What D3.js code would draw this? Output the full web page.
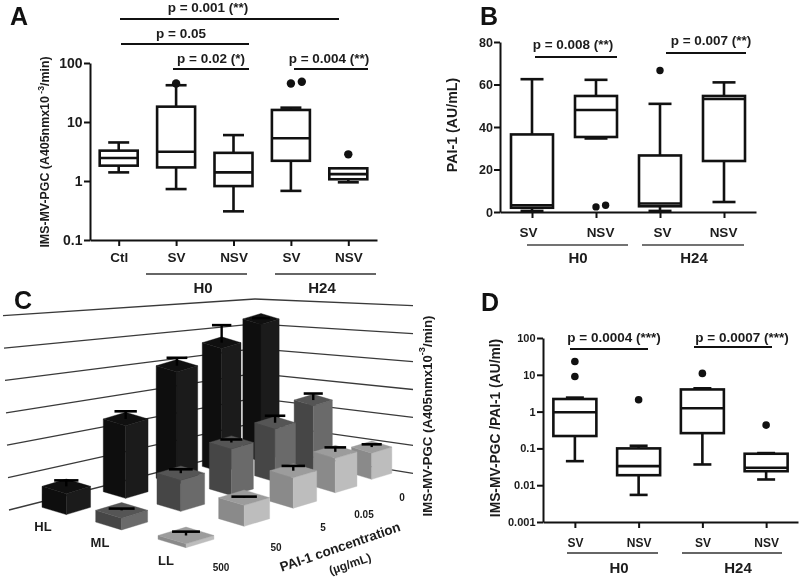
<!DOCTYPE html>
<html><head><meta charset="utf-8">
<script src="https://cdn.jsdelivr.net/npm/d3@7/dist/d3.min.js"></script>
<style>
html,body{margin:0;padding:0;background:#fff}
svg{display:block;filter:blur(0.35px)}
text{font-family:"Liberation Sans",Arial,sans-serif;font-weight:700;fill:#1c1c1c}
</style></head><body><svg id="c" width="800" height="577"></svg>
<script>
// ---------- Data ----------
const keysA = ["Ctl","SV-H0","NSV-H0","SV-H24","NSV-H24"];
const labelsA = ["Ctl","SV","NSV","SV","NSV"];
const hiA  = [4.5, 42, 6.0, 17.5, 1.64];
const q3A  = [3.27, 18.2, 3.0, 16, 1.64];
const medA = [2.45, 3.14, 1.4, 5.3, 1.31];
const q1A  = [1.82, 1.7, 0.82, 2.2, 1.07];
const loA  = [1.4, 0.73, 0.306, 0.68, 0.95];
const outA = [[], [45], [], [45, 48], [2.83]];

const keysBD = ["SV-H0","NSV-H0","SV-H24","NSV-H24"];
const labelsBD = ["SV","NSV","SV","NSV"];
const hiB  = [62.5, 62.2, 50.9, 61];
const q3B  = [36.5, 54.6, 26.6, 54.6];
const medB = [3.2, 48, 4, 53.2];
const q1B  = [2, 35.3, 2.7, 24];
const loB  = [0.5, 34.6, 0.5, 4.7];
const outB = [[], [2.4, 3.2], [66.6], []];

const hiD  = [2.4, 0.118, 4.3, 0.0746];
const q3D  = [2.2, 0.1, 4, 0.0716];
const medD = [0.96, 0.033, 1.23, 0.0297];
const q1D  = [0.217, 0.0187, 0.26, 0.024];
const loD  = [0.045, 0.00545, 0.0366, 0.0143];
const outD = [[23, 9], [2.1], [10.9], [0.43]];

const rowsC = ["HL","ML","LL"];
const concC = ["500","50","5","0.05","0"];
const meanHL = [0.63, 2.37, 3.95, 4.66, 5.51];
const meanML = [0.33, 0.95, 1.54, 1.89, 2.45];
const meanLL = [0.10, 0.60, 0.95, 1.16, 0.95];
const errHL  = [0.18, 0.25, 0.28, 0.66, 0.03];
const errML  = [0.05, 0.12, 0.10, 0.25, 0.25];
const errLL  = [0.10, 0.03, 0.15, 0.15, 0.10];
const gridLevels = [0,1,2,3,4,5,6];

// ---------- Helpers ----------
const svg = d3.select("#c");
const INK = "#111";

function letter(t,x,y){ svg.append("text").attr("x",x).attr("y",y).attr("font-size",25).style("fill","#111").text(t); }
function txt(t,x,y,size,anchor){ return svg.append("text").attr("x",x).attr("y",y).attr("font-size",size)
  .attr("text-anchor",anchor||"middle").attr("dominant-baseline","central").text(t); }
function hline(x1,x2,y,w,col){ svg.append("line").attr("x1",x1).attr("x2",x2).attr("y1",y).attr("y2",y)
  .attr("stroke",col||INK).attr("stroke-width",w||2); }
function rotLabel(cx,cy,size,parts){
  const t = svg.append("text").attr("transform",`translate(${cx},${cy}) rotate(-90)`).attr("text-anchor","middle")
    .attr("font-size",size).attr("dominant-baseline","central");
  parts.forEach(p=>{ const s=t.append("tspan").text(p.t);
    if(p.sup) s.attr("dy",-size*0.35).attr("font-size",size*0.7);
    else if(p.after) s.attr("dy",size*0.35); });
}

function boxPanel(o){
  const x = d3.scalePoint().domain(o.keys).range(o.xr).padding(0.5);
  const y = o.y;
  const g = svg.append("g");
  const ax = g.append("g").attr("transform",`translate(0,${o.yr[0]})`)
    .call(d3.axisBottom(x).tickSize(6).tickSizeOuter(0).tickPadding(o.tickPad).tickFormat((d,i)=>o.labels[i]));
  const ay = g.append("g").attr("transform",`translate(${o.xr[0]},0)`)
    .call(d3.axisLeft(y).tickValues(o.yTicks).tickFormat(o.yFmt).tickSize(6).tickSizeOuter(0).tickPadding(o.yPad));
  [ax,ay].forEach(a=>{ a.selectAll("path,line").attr("stroke",INK).attr("stroke-width",2); });
  ax.selectAll("text").attr("font-size",o.xFont).attr("dx",(d,i)=>o.labelShift?o.labelShift[i]:0);
  ay.selectAll("text").attr("font-size",o.yFont);
  const rows = o.keys.map((k,i)=>({k,hi:o.hi[i],q3:o.q3[i],med:o.med[i],q1:o.q1[i],lo:o.lo[i],out:o.out[i]}));
  const b = g.selectAll(".b").data(rows).join("g").attr("transform",d=>`translate(${x(d.k)},0)`);
  const sw = 2.6;
  b.append("line").attr("y1",d=>y(d.hi)).attr("y2",d=>y(d.q3)).attr("stroke",INK).attr("stroke-width",sw);
  b.append("line").attr("y1",d=>y(d.lo)).attr("y2",d=>y(d.q1)).attr("stroke",INK).attr("stroke-width",sw);
  b.append("line").attr("x1",-o.cap/2).attr("x2",o.cap/2).attr("y1",d=>y(d.hi)).attr("y2",d=>y(d.hi)).attr("stroke",INK).attr("stroke-width",sw);
  b.append("line").attr("x1",-o.cap/2).attr("x2",o.cap/2).attr("y1",d=>y(d.lo)).attr("y2",d=>y(d.lo)).attr("stroke",INK).attr("stroke-width",sw);
  b.append("rect").attr("x",-o.bw/2).attr("width",o.bw).attr("y",d=>y(d.q3)).attr("height",d=>y(d.q1)-y(d.q3))
    .attr("fill","#fff").attr("stroke",INK).attr("stroke-width",sw);
  b.append("line").attr("x1",-o.bw/2).attr("x2",o.bw/2).attr("y1",d=>y(d.med)).attr("y2",d=>y(d.med)).attr("stroke",INK).attr("stroke-width",sw);
  b.each(function(d){
    d3.select(this).selectAll("circle").data(d.out).join("circle")
      .attr("cx",(v,i)=> (i>0 && Math.abs(y(v)-y(d.out[i-1]))<o.r*2) ? o.r*2.6 : 0)
      .attr("cy",v=>y(v)).attr("r",o.r).attr("fill",INK);
  });
}

// ---------- Panel A ----------
letter("A",10,25);
boxPanel({keys:keysA,labels:labelsA,xr:[90,377],yr:[240,63],
  y:d3.scaleLog().domain([0.1,100]).range([240,63]),
  yTicks:[0.1,1,10,100],yFmt:d=>String(d),
  hi:hiA,q3:q3A,med:medA,q1:q1A,lo:loA,out:outA,bw:38,cap:21,r:4.2,tickPad:6,yPad:1.5,xFont:13.5,yFont:14});
rotLabel(45,152,12.4,[{t:"IMS-MV-PGC (A405nmx10"},{t:" -3",sup:true},{t:"/min)",after:true}]);
hline(120,339,19,1.8); txt("p = 0.001 (**)",208,7,13.5);
hline(121,249,44,1.8); txt("p = 0.05",181,33,13.5);
hline(173,249,69,2);   txt("p = 0.02 (*)",211,58,13.5);
hline(294,368,69,2);   txt("p = 0.004 (**)",329,58,13.5);
hline(146,247,274,1.6,"#333"); hline(275,376,274,1.6,"#333");
txt("H0",203,287,15); txt("H24",322,287,15);

// ---------- Panel B ----------
letter("B",480,25);
boxPanel({keys:keysBD,labels:labelsBD,xr:[500,756],yr:[212,42],
  y:d3.scaleLinear().domain([0,80]).range([212,42]),
  yTicks:[0,20,40,60,80],yFmt:d=>String(d),labelShift:[-4,4,2,-1],
  hi:hiB,q3:q3B,med:medB,q1:q1B,lo:loB,out:outB,bw:42,cap:23,r:3.7,tickPad:9,yPad:1,xFont:13.5,yFont:12.5});
rotLabel(452,125,14.2,[{t:"PAI-1 (AU/mL)"}]);
hline(535,617,57,2); txt("p = 0.008 (**)",573,44,13.5);
hline(666,746,53,2); txt("p = 0.007 (**)",711,40,13.5);
hline(527,628,245,1.4,"#444"); hline(642,744,245,1.4,"#444");
txt("H0",578,257,15); txt("H24",694,257,15);

// ---------- Panel D ----------
letter("D",481,311);
boxPanel({keys:keysBD,labels:labelsBD,xr:[543,798],yr:[522,338],
  y:d3.scaleLog().domain([0.001,100]).range([522,338]),
  yTicks:[0.001,0.01,0.1,1,10,100],yFmt:d=>String(d),
  hi:hiD,q3:q3D,med:medD,q1:q1D,lo:loD,out:outD,bw:43,cap:18,r:3.8,tickPad:10,yPad:1.5,xFont:12,yFont:11});
rotLabel(495,428,13.8,[{t:"IMS-MV-PGC /PAI-1 (AU/ml)"}]);
hline(570,648,349,2); txt("p = 0.0004 (***)",614,337,13.5);
hline(694,772,347,2); txt("p = 0.0007 (***)",742,337,13.5);
hline(567,658,553,1.6,"#333"); hline(682,782,553,1.6,"#333");
txt("H0",619,567,15); txt("H24",738,567,15);

// ---------- Panel C: perspective bars ----------
letter("C",14,309);
const gridG = svg.append("g");
const cornerY = d3.scaleLinear().domain([0,6]).range([299,447.7]);
const leftY   = d3.scaleLinear().domain([0,6]).range([315.7,510]);
const rightY  = d3.scaleLinear().domain([0,6]).range([305.7,473.3]);
const leftX   = d3.scaleLinear().domain([0,6]).range([3,9]);
const cornerX = 255, rightX = 413;
gridG.selectAll("path").data(gridLevels).join("path")
  .attr("d",i=>d3.line()([[leftX(i),leftY(i)],[cornerX,cornerY(i)],[rightX,rightY(i)]]))
  .attr("fill","none").attr("stroke","#3a3a3a").attr("stroke-width",1.3);

function homography(p00,p10,p11,p01){
  const [x0,y0]=p00,[x1,y1]=p10,[x2,y2]=p11,[x3,y3]=p01;
  const dx1=x1-x2,dx2=x3-x2,dy1=y1-y2,dy2=y3-y2,sx=x0-x1+x2-x3,sy=y0-y1+y2-y3;
  const den=dx1*dy2-dx2*dy1, g=(sx*dy2-dx2*sy)/den, h=(dx1*sy-sx*dy1)/den;
  const a=x1-x0+g*x1,b=x3-x0+h*x3,d=y1-y0+g*y1,e=y3-y0+h*y3;
  return (u,v)=>{const w=g*u+h*v+1;return [(a*u+b*v+x0)/w,(d*u+e*v+y0)/w];};
}
const floor = homography([66.3,507.3],[261,456],[371.7,473.3],[186,539.3]); // u: conc, v: row
const uS = d3.scalePoint().domain(concC).range([0,1]);
const vS = d3.scalePoint().domain(rowsC).range([0,1]);
const du = 0.21/4, dv = 0.21/2, hUnit = 0.685, diamond = 0.15;
const palette = {HL:{top:"#101010",left:"#0e0e0e",right:"#1b1b1b"},
                 ML:{top:"#555",left:"#464646",right:"#6a6a6a"},
                 LL:{top:"#9c9c9c",left:"#8a8a8a",right:"#bdbdbd"}};
const cMeans={HL:meanHL,ML:meanML,LL:meanLL}, cErrs={HL:errHL,ML:errML,LL:errLL};
const bars=[];
rowsC.forEach(r=>concC.forEach((c,i)=>{
  const u=uS(c),v=vS(r), M=floor(u,v);
  const pl=floor(u-du,v-dv), pr=floor(u+du,v+dv);
  const width=pr[0]-pl[0], hh=width*diamond;
  const left=[M[0]-width/2,M[1]], right=[M[0]+width/2,M[1]], back=[M[0],M[1]-hh], front=[M[0],M[1]+hh];
  const h=cMeans[r][i]*width*hUnit, e=cErrs[r][i]*width*hUnit;
  bars.push({r,c,left,back,right,front,M,width,h,e,col:palette[r]});
}));
bars.sort((a,b)=>a.M[1]-b.M[1]);
const line=d3.line();
const up=(p,h)=>[p[0],p[1]-h];
const gb=svg.selectAll(".bar").data(bars).join("g");
gb.append("path").attr("d",d=>line([d.left,d.front,up(d.front,d.h),up(d.left,d.h)])+"Z").attr("fill",d=>d.col.left).attr("stroke",d=>d.col.left).attr("stroke-width",.4);
gb.append("path").attr("d",d=>line([d.front,d.right,up(d.right,d.h),up(d.front,d.h)])+"Z").attr("fill",d=>d.col.right).attr("stroke",d=>d.col.right).attr("stroke-width",.4);
gb.append("path").attr("d",d=>line([d.left,d.back,d.right,d.front].map(p=>up(p,d.h)))+"Z").attr("fill",d=>d.col.top).attr("stroke",d=>d.col.top).attr("stroke-width",.4);
gb.append("line").attr("x1",d=>d.M[0]).attr("x2",d=>d.M[0]).attr("y1",d=>d.M[1]-d.h).attr("y2",d=>d.M[1]-d.h-d.e).attr("stroke","#000").attr("stroke-width",2.4);
gb.append("line").attr("x1",d=>d.M[0]-d.width*.25).attr("x2",d=>d.M[0]+d.width*.25).attr("y1",d=>d.M[1]-d.h-d.e).attr("y2",d=>d.M[1]-d.h-d.e).attr("stroke","#000").attr("stroke-width",2.6);

txt("HL",43,526,13); txt("ML",100,542,13); txt("LL",166,560,13);
txt("500",221,567,10); txt("50",276,547,10); txt("5",323,527,10); txt("0.05",364,514,10); txt("0",402,497,10);
svg.append("text").attr("transform","translate(340,547) rotate(-19)").attr("text-anchor","middle").attr("dominant-baseline","central").attr("font-size",13.5).text("PAI-1 concentration");
svg.append("text").attr("transform","translate(350,564) rotate(-19)").attr("text-anchor","middle").attr("dominant-baseline","central").attr("font-size",12).text("(µg/mL)");
rotLabel(427,416,13.2,[{t:"IMS-MV-PGC (A405nmx10"},{t:"-3",sup:true},{t:"/min)",after:true}]);
</script></body></html>
